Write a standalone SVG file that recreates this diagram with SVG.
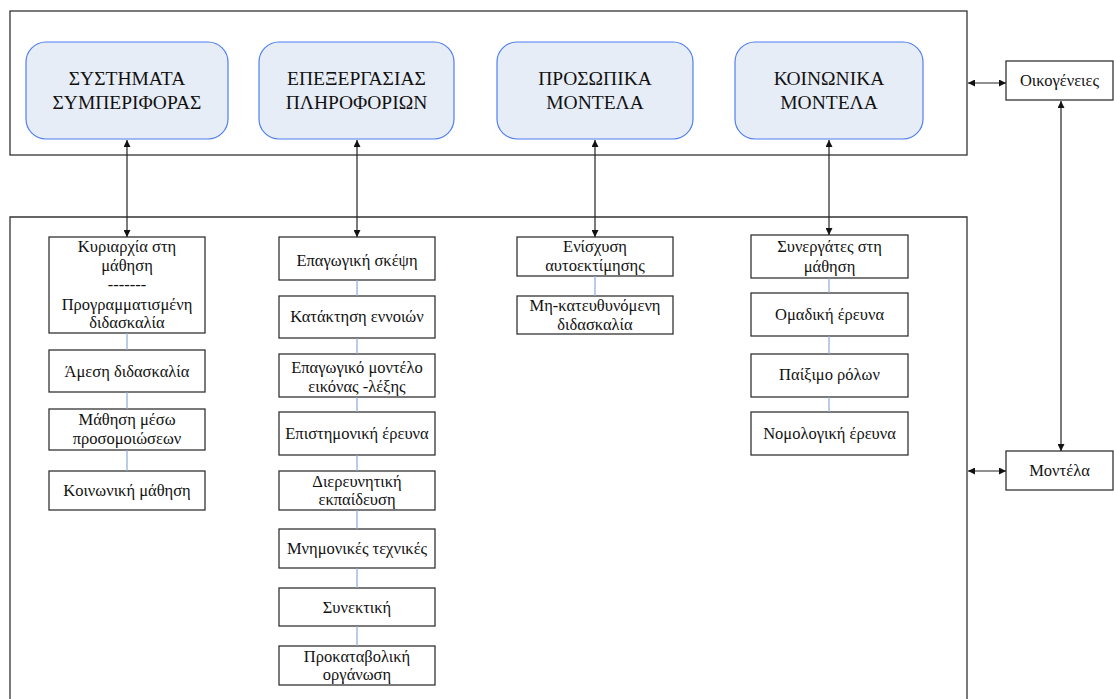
<svg xmlns="http://www.w3.org/2000/svg" width="1114" height="699" viewBox="0 0 1114 699" font-family="Liberation Serif, DejaVu Serif, serif">
  <style>
    .frame { fill: #ffffff; stroke: #333333; stroke-width: 1.3; }
    .family { fill: #e7edf7; stroke: #4f7ff0; stroke-width: 1.2; }
    .box { fill: #ffffff; stroke: #333333; stroke-width: 1.3; }
    .link { stroke: #222222; stroke-width: 1.2; fill: none; }
    .chain { stroke: #8eaadb; stroke-width: 1.2; fill: none; }
    .big { font-size: 19.5px; fill: #111111; text-anchor: middle; font-family: 'Liberation Serif', serif; }
    .small { font-size: 16.5px; fill: #111111; text-anchor: middle; font-family: 'Liberation Serif', serif; }
  </style>
  <defs>
    <marker id="tip" viewBox="0 0 10 10" refX="10" refY="5" markerWidth="8" markerHeight="7" markerUnits="userSpaceOnUse" orient="auto-start-reverse">
      <path d="M0,0 L10,5 L0,10 z" fill="#111111"/>
    </marker>
  </defs>

  <rect width="1114" height="699" fill="#ffffff"/>

  <!-- outer frames -->
  <g id="families-frame">
    <rect class="frame" x="10" y="11" width="957" height="144"/>
  </g>
  <g id="models-frame">
    <path class="frame" d="M10,710 L10,217 L967,217 L967,710"/>
  </g>

  <!-- model families -->
  <g id="family-behavioral">
    <rect class="family" x="26" y="42" width="202" height="97" rx="20"/>
    <text class="big" x="127" y="85">ΣΥΣΤΗΜΑΤΑ</text>
    <text class="big" x="127" y="109">ΣΥΜΠΕΡΙΦΟΡΑΣ</text>
  </g>
  <g id="family-information">
    <rect class="family" x="259" y="42" width="195" height="97" rx="20"/>
    <text class="big" x="356.5" y="85">ΕΠΕΞΕΡΓΑΣΙΑΣ</text>
    <text class="big" x="356.5" y="109">ΠΛΗΡΟΦΟΡΙΩΝ</text>
  </g>
  <g id="family-personal">
    <rect class="family" x="497" y="42" width="196" height="97" rx="20"/>
    <text class="big" x="595" y="85">ΠΡΟΣΩΠΙΚΑ</text>
    <text class="big" x="595" y="109">ΜΟΝΤΕΛΑ</text>
  </g>
  <g id="family-social">
    <rect class="family" x="735" y="42" width="188" height="97" rx="20"/>
    <text class="big" x="829" y="85">ΚΟΙΝΩΝΙΚΑ</text>
    <text class="big" x="829" y="109">ΜΟΝΤΕΛΑ</text>
  </g>

  <!-- side boxes -->
  <g id="families">
    <rect class="box" x="1006" y="61" width="107" height="39"/>
    <text class="small" x="1059.5" y="86">Οικογένειες</text>
  </g>
  <g id="models">
    <rect class="box" x="1006" y="451" width="107" height="39"/>
    <text class="small" x="1059.5" y="476">Μοντέλα</text>
  </g>

  <!-- column 1 -->
  <g id="mastery-learning">
    <rect class="box" x="49" y="237" width="156" height="96"/>
    <text class="small" x="127" y="252">Κυριαρχία στη</text>
    <text class="small" x="127" y="271">μάθηση</text>
    <text class="small" x="127" y="290">-------</text>
    <text class="small" x="127" y="310">Προγραμματισμένη</text>
    <text class="small" x="127" y="328">διδασκαλία</text>
  </g>
  <g id="direct-instruction">
    <rect class="box" x="49" y="350" width="156" height="42"/>
    <text class="small" x="127" y="376.5">Άμεση διδασκαλία</text>
  </g>
  <g id="simulation">
    <rect class="box" x="49" y="409" width="156" height="41"/>
    <text class="small" x="127" y="425">Μάθηση μέσω</text>
    <text class="small" x="127" y="444">προσομοιώσεων</text>
  </g>
  <g id="social-learning">
    <rect class="box" x="49" y="471" width="156" height="39"/>
    <text class="small" x="127" y="496">Κοινωνική μάθηση</text>
  </g>

  <!-- column 2 -->
  <g id="inductive-thinking">
    <rect class="box" x="279" y="237" width="156" height="43"/>
    <text class="small" x="357" y="266">Επαγωγική σκέψη</text>
  </g>
  <g id="concept-attainment">
    <rect class="box" x="279" y="296" width="156" height="42"/>
    <text class="small" x="357" y="322">Κατάκτηση εννοιών</text>
  </g>
  <g id="picture-word">
    <rect class="box" x="279" y="354" width="156" height="43"/>
    <text class="small" x="357" y="373">Επαγωγικό μοντέλο</text>
    <text class="small" x="357" y="392">εικόνας -λέξης</text>
  </g>
  <g id="scientific-inquiry">
    <rect class="box" x="279" y="412" width="156" height="43"/>
    <text class="small" x="357" y="439">Επιστημονική έρευνα</text>
  </g>
  <g id="inquiry-training">
    <rect class="box" x="279" y="471" width="156" height="39"/>
    <text class="small" x="357" y="487">Διερευνητική</text>
    <text class="small" x="357" y="505">εκπαίδευση</text>
  </g>
  <g id="mnemonics">
    <rect class="box" x="279" y="529" width="156" height="39"/>
    <text class="small" x="357" y="554">Μνημονικές τεχνικές</text>
  </g>
  <g id="synectics">
    <rect class="box" x="279" y="588" width="156" height="38"/>
    <text class="small" x="357" y="612.5">Συνεκτική</text>
  </g>
  <g id="advance-organizer">
    <rect class="box" x="279" y="646" width="156" height="39"/>
    <text class="small" x="357" y="662">Προκαταβολική</text>
    <text class="small" x="357" y="680">οργάνωση</text>
  </g>

  <!-- column 3 -->
  <g id="self-esteem">
    <rect class="box" x="517" y="237" width="156" height="39"/>
    <text class="small" x="595" y="252">Ενίσχυση</text>
    <text class="small" x="595" y="271">αυτοεκτίμησης</text>
  </g>
  <g id="nondirective">
    <rect class="box" x="517" y="296" width="156" height="38"/>
    <text class="small" x="595" y="311">Μη-κατευθυνόμενη</text>
    <text class="small" x="595" y="330">διδασκαλία</text>
  </g>

  <!-- column 4 -->
  <g id="learning-partners">
    <rect class="box" x="751" y="235" width="157" height="43"/>
    <text class="small" x="829.5" y="252">Συνεργάτες στη</text>
    <text class="small" x="829.5" y="271.5">μάθηση</text>
  </g>
  <g id="group-investigation">
    <rect class="box" x="751" y="293" width="157" height="43"/>
    <text class="small" x="829.5" y="320">Ομαδική έρευνα</text>
  </g>
  <g id="role-playing">
    <rect class="box" x="751" y="354" width="157" height="43"/>
    <text class="small" x="829.5" y="380">Παίξιμο ρόλων</text>
  </g>
  <g id="jurisprudential-inquiry">
    <rect class="box" x="751" y="412" width="157" height="43"/>
    <text class="small" x="829.5" y="439">Νομολογική έρευνα</text>
  </g>

  <!-- connectors -->
  <g id="connectors">
    <!-- family to first model, two-way -->
    <line class="link" x1="127" y1="140" x2="127" y2="237" marker-start="url(#tip)" marker-end="url(#tip)"/>
    <line class="link" x1="357" y1="140" x2="357" y2="237" marker-start="url(#tip)" marker-end="url(#tip)"/>
    <line class="link" x1="595" y1="140" x2="595" y2="237" marker-start="url(#tip)" marker-end="url(#tip)"/>
    <line class="link" x1="829" y1="140" x2="829" y2="235" marker-start="url(#tip)" marker-end="url(#tip)"/>
    <!-- side links -->
    <line class="link" x1="968" y1="83" x2="1006" y2="83" marker-start="url(#tip)" marker-end="url(#tip)"/>
    <line class="link" x1="968" y1="471" x2="1006" y2="471" marker-start="url(#tip)" marker-end="url(#tip)"/>
    <line class="link" x1="1061" y1="101" x2="1061" y2="451" marker-start="url(#tip)" marker-end="url(#tip)"/>
    <!-- chains inside each family -->
    <line class="chain" x1="127" y1="333" x2="127" y2="350"/>
    <line class="chain" x1="127" y1="392" x2="127" y2="409"/>
    <line class="chain" x1="127" y1="450" x2="127" y2="471"/>
    <line class="chain" x1="357" y1="280" x2="357" y2="296"/>
    <line class="chain" x1="357" y1="338" x2="357" y2="354"/>
    <line class="chain" x1="357" y1="397" x2="357" y2="412"/>
    <line class="chain" x1="357" y1="455" x2="357" y2="471"/>
    <line class="chain" x1="357" y1="510" x2="357" y2="529"/>
    <line class="chain" x1="357" y1="568" x2="357" y2="588"/>
    <line class="chain" x1="357" y1="626" x2="357" y2="646"/>
    <line class="chain" x1="595" y1="276" x2="595" y2="296"/>
    <line class="chain" x1="829" y1="278" x2="829" y2="293"/>
    <line class="chain" x1="829" y1="336" x2="829" y2="354"/>
    <line class="chain" x1="829" y1="397" x2="829" y2="412"/>
  </g>
</svg>
